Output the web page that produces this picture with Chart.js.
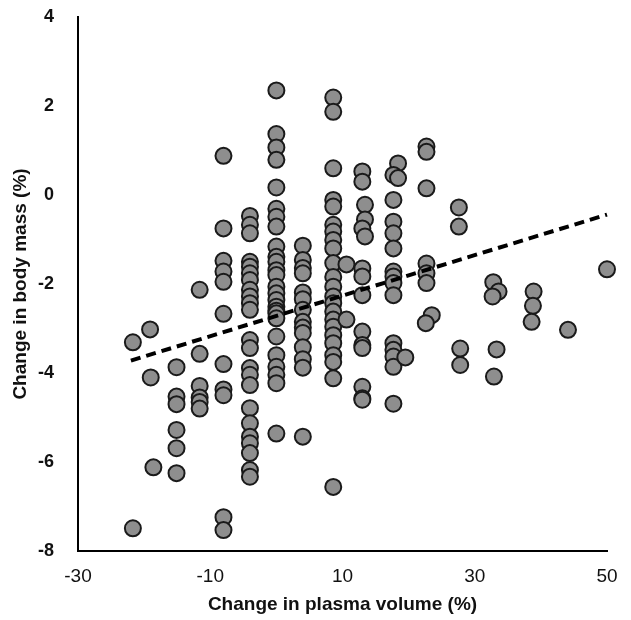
<!DOCTYPE html>
<html>
<head>
<meta charset="utf-8">
<script src="https://cdn.jsdelivr.net/npm/chart.js@4.4.1/dist/chart.umd.min.js"></script>
<style>
  html, body { margin: 0; padding: 0; background: #ffffff; }
  #wrap { width: 631px; height: 620px; }
</style>
</head>
<body>
<div id="wrap"><canvas id="c" width="631" height="620"></canvas></div>
<script>
// Change in plasma volume (%) per point
const plasmaVolume = [
  -21.7, -19.1, -19.0, -18.6, -21.7,
  -15.1, -15.1, -15.1, -15.1, -15.1, -15.1,
  -11.6, -11.6, -11.6, -11.6, -11.6, -11.6,
  -8, -8, -8, -8, -8, -8, -8, -8, -8, -8, -8,
  -4, -4, -4, -4, -4, -4, -4, -4, -4, -4, -4, -4, -4, -4, -4, -4, -4, -4, -4, -4, -4, -4, -4,
  0, 0, 0, 0, 0, 0, 0, 0, 0, 0, 0, 0, 0, 0, 0, 0, 0, 0, 0, 0, 0, 0, 0, 0, 0, 0,
  4, 4, 4, 4, 4, 4, 4, 4, 4, 4, 4, 4, 4, 4,
  8.6, 8.6, 8.6, 8.6, 8.6, 8.6, 8.6, 8.6, 8.6, 8.6, 8.6, 8.6, 8.6, 8.6, 8.6, 8.6, 8.6, 8.6, 8.6, 8.6, 8.6, 8.6, 8.6,
  10.6, 10.6,
  13, 13, 13.4, 13.4, 13, 13.4, 13, 13, 13, 13, 13, 13, 13, 13, 13,
  18.4, 17.7, 18.4, 17.7, 17.7, 17.7, 17.7, 17.7, 17.7, 17.7, 17.7, 17.7, 17.7, 17.7, 17.7, 17.7,
  19.5,
  22.7, 22.7, 22.7, 22.7, 22.7, 22.7, 23.5, 22.6,
  27.6, 27.6, 27.8, 27.8,
  32.8, 33.6, 32.7, 33.3, 32.9,
  38.9, 38.8, 38.6,
  44.1,
  50.0
];
// Change in body mass (%) per point
const bodyMass = [
  -3.31, -3.02, -4.10, -6.12, -7.49,
  -3.87, -4.53, -4.70, -5.28, -5.69, -6.25,
  -2.13, -3.57, -4.29, -4.55, -4.65, -4.80,
  0.88, -0.75, -1.48, -1.72, -1.95, -2.67, -3.80, -4.37, -4.50, -7.24, -7.53,
  -0.47, -0.67, -0.86, -1.50, -1.61, -1.76, -1.91, -2.13, -2.28, -2.43, -2.58, -3.26, -3.44, -3.89, -4.04, -4.27, -4.79, -5.13, -5.43, -5.58, -5.80, -6.18, -6.33,
  2.35, 1.37, 1.07, 0.79, 0.17, -0.31, -0.49, -0.71, -1.16, -1.39, -1.50, -1.69, -1.80, -2.06, -2.21, -2.36, -2.51, -2.60, -2.66, -2.77, -3.18, -3.60, -3.86, -4.04, -4.23, -5.36,
  -1.14, -1.46, -1.64, -1.76, -2.19, -2.34, -2.58, -2.85, -2.98, -3.10, -3.42, -3.69, -3.88, -5.43,
  2.19, 1.87, 0.60, -0.11, -0.26, -0.67, -0.82, -1.01, -1.20, -1.53, -1.84, -2.06, -2.28, -2.43, -2.62, -2.80, -2.96, -3.15, -3.33, -3.60, -3.75, -4.12, -6.56,
  -1.56, -2.80,
  0.53, 0.30, -0.22, -0.55, -0.75, -0.93, -1.65, -1.83, -2.25, -3.07, -3.37, -3.44, -4.31, -4.57, -4.60,
  0.71, 0.45, 0.38, -0.11, -0.60, -0.86, -1.20, -1.72, -1.83, -1.98, -2.25, -3.33, -3.48, -3.63, -3.86, -4.69,
  -3.65,
  1.09, 0.97, 0.15, -1.54, -1.76, -1.98, -2.70, -2.88,
  -0.28, -0.71, -3.45, -3.82,
  -1.96, -2.17, -2.28, -3.47, -4.08,
  -2.17, -2.49, -2.85,
  -3.03,
  -1.67
];
// Linear trend line end points
const trendX = [-22, 50];
const trendY = [-3.72, -0.44];
// Axis ticks
const xTicks = [-30, -10, 10, 30, 50];
const yTicks = [-8, -6, -4, -2, 0, 2, 4];

const points = plasmaVolume.map((x, i) => ({ x: x, y: bodyMass[i] }));
const trend = trendX.map((x, i) => ({ x: x, y: trendY[i] }));

const FAMILY = 'Liberation Sans, Arial, sans-serif';
const titleFont = { family: FAMILY, size: 19, weight: 'bold' };

new Chart(document.getElementById('c'), {
  type: 'scatter',
  data: {
    datasets: [
      {
        type: 'line',
        data: trend,
        borderColor: '#000000',
        borderWidth: 4,
        borderDash: [10, 6],
        pointRadius: 0,
        fill: false,
        showLine: true,
        clip: false
      },
      {
        data: points,
        backgroundColor: '#8e8e8e',
        borderColor: '#1a1a1a',
        borderWidth: 2,
        pointRadius: 8,
        pointHoverRadius: 8,
        clip: false
      }
    ]
  },
  options: {
    responsive: false,
    animation: false,
    devicePixelRatio: 1,
    layout: { padding: { top: 17, right: 24, left: 0, bottom: 0 } },
    plugins: { legend: { display: false }, tooltip: { enabled: false } },
    scales: {
      x: {
        type: 'linear',
        min: -30, max: 50,
        afterBuildTicks: (s) => { s.ticks = xTicks.map(v => ({ value: v })); },
        afterFit: (s) => { s.height = 69; },
        grid: { display: false, drawOnChartArea: false, drawTicks: true, tickLength: 6, tickColor: '#000', tickWidth: 2 },
        border: { display: true, color: '#000', width: 2 },
        ticks: { color: '#111', font: { family: FAMILY, size: 19 }, padding: 8, maxRotation: 0 },
        title: { display: true, text: 'Change in plasma volume (%)', color: '#111', font: titleFont, padding: { top: 0, bottom: 4 } }
      },
      y: {
        type: 'linear',
        min: -8, max: 4,
        afterBuildTicks: (s) => { s.ticks = yTicks.map(v => ({ value: v })); },
        afterFit: (s) => { s.width = 78; s.paddingTop = 0; s.paddingBottom = 0; },
        grid: { display: false, drawOnChartArea: false, drawTicks: true, tickLength: 6, tickColor: '#000', tickWidth: 2 },
        border: { display: true, color: '#000', width: 2 },
        ticks: { color: '#111', font: { family: FAMILY, size: 18, weight: 'bold' }, padding: 18 },
        title: { display: true, text: 'Change in body mass (%)', color: '#111', font: titleFont, padding: { top: 9, bottom: 0 } }
      }
    }
  }
});
</script>
</body>
</html>
